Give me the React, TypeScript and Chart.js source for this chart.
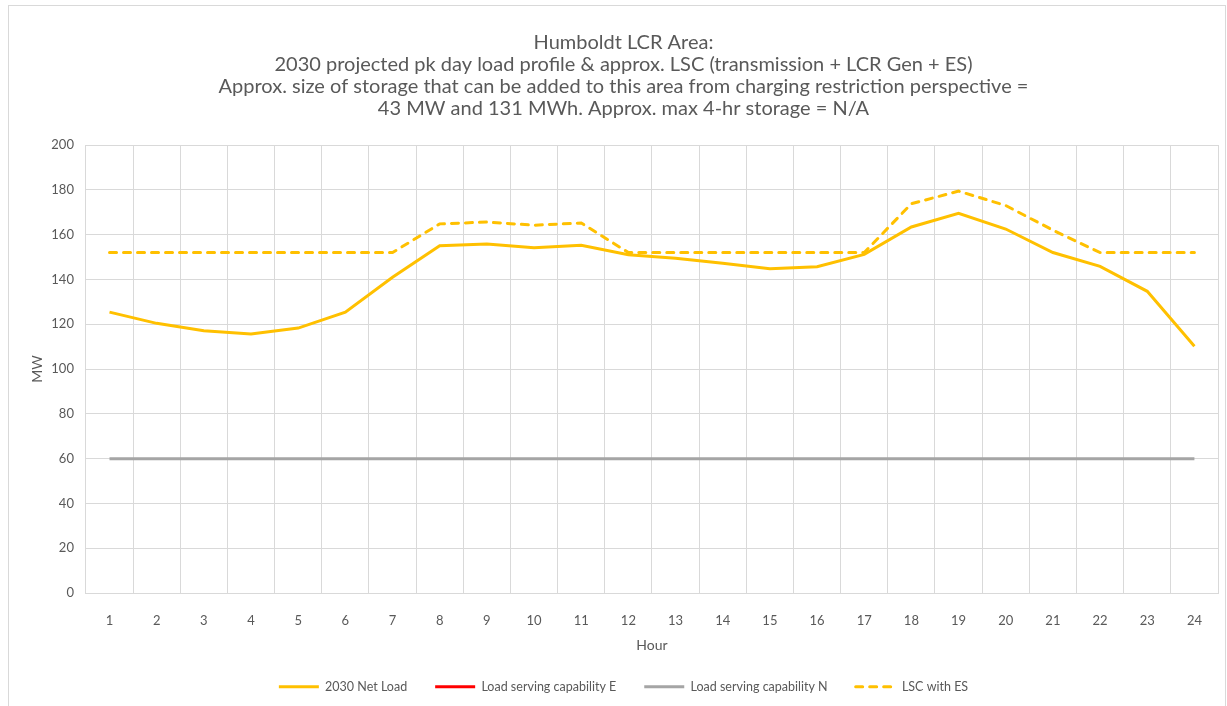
import React, { useEffect, useRef } from "react";
import { Chart, registerables } from "chart.js";

Chart.register(...registerables);

const hours = ["1","2","3","4","5","6","7","8","9","10","11","12","13","14","15","16","17","18","19","20","21","22","23","24"];
const netLoad = [125.4, 120.4, 117.1, 115.6, 118.3, 125.4, 141, 155, 155.8, 154.1, 155.2, 151, 149.5, 147.2, 144.8, 145.7, 151.2, 163.4, 169.5, 162.5, 152, 145.8, 134.7, 110.2];
const capabilityE: (number | null)[] = hours.map(() => null);
const capabilityN = [60,60,60,60,60,60,60,60,60,60,60,60,60,60,60,60,60,60,60,60,60,60,60,60];
const lscWithES = [152, 152, 152, 152, 152, 152, 152, 164.8, 165.6, 164.2, 165.2, 152, 152, 152, 152, 152, 152, 173.8, 179.4, 173, 162, 152, 152, 152];
const titleLines = [
  "Humboldt LCR Area:",
  "2030 projected pk day load profile & approx. LSC (transmission + LCR Gen + ES)",
  "Approx. size of storage that can be added to this area from charging restriction perspective =",
  "43 MW and 131 MWh. Approx. max 4-hr storage = N/A",
];

const FONT = "Lato, 'Liberation Sans', sans-serif";
const TEXT = "#595959";
const GRID = "#d9d9d9";

export default function App() {
  const ref = useRef<HTMLCanvasElement | null>(null);
  useEffect(() => {
    if (!ref.current) return;
    const chart = new Chart(ref.current, {
      type: "line",
      data: {
        labels: hours,
        datasets: [
          { label: "2030 Net Load", data: netLoad, borderColor: "#FFC000", backgroundColor: "#FFC000", borderWidth: 3, pointRadius: 0, tension: 0 },
          { label: "Load serving capability E", data: capabilityE, borderColor: "#FF0000", backgroundColor: "#FF0000", borderWidth: 3, pointRadius: 0 },
          { label: "Load serving capability N", data: capabilityN, borderColor: "#A5A5A5", backgroundColor: "#A5A5A5", borderWidth: 3, pointRadius: 0 },
          { label: "LSC with ES", data: lscWithES, borderColor: "#FFC000", backgroundColor: "#FFC000", borderWidth: 3, borderDash: [7, 7], borderCapStyle: "round", pointRadius: 0 },
        ],
      },
      options: {
        animation: false,
        responsive: true,
        maintainAspectRatio: false,
        layout: { padding: { left: 20, right: 7, top: 26, bottom: 3 } },
        plugins: {
          title: {
            display: true,
            text: titleLines,
            color: TEXT,
            font: { family: FONT, size: 20, weight: "normal", lineHeight: "22px" },
            padding: { top: 0, bottom: 25 },
          },
          legend: {
            position: "bottom",
            labels: {
              color: TEXT,
              font: { family: FONT, size: 12.5 },
              usePointStyle: true,
              pointStyle: "line",
              pointStyleWidth: 40,
              padding: 28,
              generateLabels: (c: any) => {
                const items = Chart.defaults.plugins.legend.labels.generateLabels(c);
                return items.map((it: any) => {
                  const ds: any = c.data.datasets[it.datasetIndex];
                  return { ...it, lineDash: ds.borderDash || [], lineWidth: 3, strokeStyle: ds.borderColor, fillStyle: ds.borderColor, lineCap: ds.borderDash ? "round" : "butt", pointStyle: "line" };
                });
              },
            },
          },
          tooltip: { enabled: false },
        },
        scales: {
          x: {
            offset: true,
            grid: { offset: true, color: GRID, drawTicks: false },
            border: { color: GRID },
            ticks: { color: TEXT, font: { family: FONT, size: 13 }, padding: 20, maxRotation: 0 },
            title: { display: true, text: "Hour", color: TEXT, font: { family: FONT, size: 14 }, padding: { top: -12, bottom: -1 } },
          },
          y: {
            min: 0,
            max: 200,
            grid: { color: GRID, drawTicks: false },
            border: { color: GRID },
            ticks: { stepSize: 20, color: TEXT, font: { family: FONT, size: 13 }, padding: 12 },
            title: { display: true, text: "MW", color: TEXT, font: { family: FONT, size: 14 }, padding: { top: 0, bottom: -6.5 } },
          },
        },
      },
    });
    return () => chart.destroy();
  }, []);
  return (
    <div style={{ position: "absolute", left: 8, top: 5, width: 1216, height: 700, borderLeft: "1px solid #d9d9d9", borderTop: "1px solid #d9d9d9", borderRight: "1px solid #d9d9d9", background: "#fff" }}>
      <canvas ref={ref} />
    </div>
  );
}
